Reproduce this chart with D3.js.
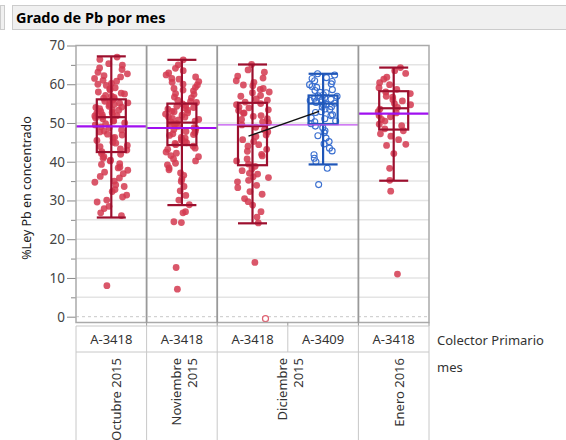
<!DOCTYPE html>
<html>
<head>
<meta charset="utf-8">
<script src="https://cdn.jsdelivr.net/npm/d3@7"></script>
<style>
  body { margin: 0; background: #fff; font-family: "Noto Sans", "Open Sans", sans-serif; }
  svg text { fill: #333; }
</style>
</head>
<body>
<div id="chart"></div>
<script>
// groups (Colector Primario within mes)
const grupos = ["Oct-A-3418", "Nov-A-3418", "Dic-A-3418", "Dic-A-3409", "Ene-A-3418"];
const colectores = ["A-3418", "A-3418", "A-3418", "A-3409", "A-3418"];
const meses = [["Octubre 2015"], ["Noviembre", "2015"], ["Diciembre", "2015"], ["Enero 2016"]];
const mesGrupos = [[0], [1], [2, 3], [4]];

// %Ley Pb values per group
const octubre = [67.0, 66.4, 65.3, 64.9, 64.2, 63.8, 63.1, 62.7, 62.2, 61.9, 61.5, 61.0, 60.8, 60.2, 60.0, 59.7,
  59.1, 58.8, 58.6, 58.0, 57.7, 57.5, 57.1, 56.9, 56.6, 56.4, 56.2,
  55.9, 55.7, 55.6, 55.2, 55.1, 54.8, 54.7, 54.3, 54.1, 54.0, 53.7, 53.4, 53.3, 53.0, 52.8, 52.5, 52.4, 52.1, 51.9, 51.8, 51.6,
  51.3, 51.1, 50.6, 50.5, 50.0, 49.8, 49.5, 49.0, 48.8, 48.2, 47.9, 47.7, 47.1, 46.9, 46.3, 46.1, 45.5, 45.0, 44.8, 44.2, 43.9, 43.3, 43.0, 42.6,
  42.1, 41.9, 41.3, 40.9, 40.4, 40.2, 39.5, 39.3, 38.6, 38.4, 37.8, 37.3, 36.9, 36.2, 35.8, 35.0, 34.7, 34.0, 33.6, 32.8, 32.3, 31.4, 30.9, 30.1, 29.6, 28.5, 27.9, 26.8, 26.1,
  8.0];
const noviembre = [66.3, 65.0, 64.1, 63.5, 62.9, 62.4, 61.9, 61.5, 61.3, 60.7, 60.5, 60.0, 59.8, 59.2, 58.9, 58.5, 58.3, 57.6, 57.4, 56.7, 56.5, 55.9, 55.6, 55.3,
  54.9, 54.5, 54.3, 54.0, 53.8, 53.6, 53.3, 53.0, 52.9, 52.6, 52.3, 52.0, 51.6, 51.5, 51.2, 50.9, 50.8, 50.5, 50.3,
  49.9, 49.6, 49.4, 49.1, 48.8, 48.6, 48.3, 48.0, 47.8, 47.5, 47.2, 47.0, 46.8, 46.3, 46.1, 45.7, 45.5, 45.2, 44.9, 44.7, 44.4,
  44.0, 43.5, 43.2, 42.5, 42.2, 41.6, 41.3, 40.7, 40.2, 39.6, 39.2, 38.4, 37.9, 37.1, 36.5, 35.5, 34.9, 33.6, 32.5, 31.3, 30.1, 28.9,
  27.1, 26.8, 24.5, 24.3, 12.7, 7.1];
const diciembre3418 = [65.1, 63.7, 63.1, 62.1, 61.6, 60.9, 60.5, 59.8, 59.6, 58.9, 58.7, 58.0, 57.8, 57.1, 56.9, 56.2, 55.9, 55.4,
  55.0, 54.7, 54.1, 53.9, 53.4, 53.2, 52.6, 52.5, 51.9, 51.7, 51.1, 50.9, 50.3, 50.1, 49.5,
  48.9, 48.2, 47.7, 46.9, 46.5, 45.7, 45.2, 44.4, 44.0, 43.2, 42.7, 41.9, 41.5, 40.7, 40.2, 39.4,
  38.8, 38.1, 37.7, 37.0, 36.8, 36.1, 35.9, 35.2, 34.8, 33.9, 33.3, 32.3, 31.6, 30.5, 29.7, 28.8, 27.1, 25.7, 24.2,
  14.0];
const diciembre3409 = [62.7, 62.4, 61.7, 61.5, 60.9, 60.7, 60.1, 59.9, 59.4, 59.2, 58.6, 58.4, 57.9, 57.8, 57.3,
  57.0, 56.9, 56.5, 56.4, 56.1, 56.0, 55.8, 55.7, 55.4, 55.3, 55.1,
  54.8, 54.7, 54.2, 54.1, 53.6, 53.5, 52.9, 52.7, 52.1, 51.9, 51.3, 51.1, 50.5, 50.3, 49.8,
  49.2, 48.8, 48.0, 47.5, 46.7, 46.1, 45.2, 44.6, 43.5, 42.8, 41.8, 40.9, 40.0, 38.3,
  34.1];
const enero = [64.3, 63.5, 62.8, 61.8, 61.3, 60.4, 59.9, 59.1, 58.7,
  58.0, 57.6, 56.9, 56.7, 56.0, 55.7, 55.0, 54.7, 54.0,
  53.6, 52.9, 52.6, 51.9, 51.6, 50.9, 50.5, 49.7, 49.3, 48.5,
  48.0, 47.2, 46.6, 45.7, 44.5, 44.2, 42.1, 38.3, 35.2, 32.4, 11.0];
const valores = [octubre, noviembre, diciembre3418, diciembre3409, enero];

// excluded row (open marker)
const excluidoGrupo = [2];
const excluidoValor = [-0.5];

// box plot summaries per group
const bigoteAlto = [67.2, 66.3, 65.1, 62.7, 64.3];
const cuartil3 = [56.1, 55.0, 55.2, 57.1, 58.2];
const mediana = [51.5, 50.1, 49.2, 55.0, 53.8];
const cuartil1 = [42.5, 44.3, 39.1, 49.7, 48.3];
const bigoteBajo = [25.6, 28.8, 24.1, 39.3, 35.1];

// mean per mes (purple) and per colector in Diciembre (black line)
const mediaMes = [49.1, 48.7, 49.5, 52.4];
const mediaDic = [46.6, 53.0];

const yTicks = [0, 10, 20, 30, 40, 50, 60, 70];
const yMinor = [5, 15, 25, 35, 45, 55, 65];

const width = 566, height = 440;
const pLeft = 76, pRight = 429, pTop = 45.5, pBottom = 322.5;

const svg = d3.select("#chart").append("svg")
  .attr("width", width).attr("height", height);

// title bar
svg.append("rect").attr("x", 0.5).attr("y", 5.5).attr("width", 4).attr("height", 24)
  .attr("fill", "#f0f0f0").attr("stroke", "#cccccc");
svg.append("rect").attr("x", 12.5).attr("y", 5.5).attr("width", 560).attr("height", 24)
  .attr("fill", "#f0f0f0").attr("stroke", "#cccccc");
svg.append("text").attr("x", 16).attr("y", 23)
  .style("font-size", "14.5px").style("font-weight", "bold").style("fill", "#000")
  .text("Grado de Pb por mes");

const y = d3.scaleLinear().domain([-1.5, 70]).range([pBottom, pTop]);
const x = d3.scaleBand().domain(grupos).range([pLeft, pRight]);
const bw = x.bandwidth();
const cx = i => x(grupos[i]) + bw / 2;

// gridlines
svg.append("g").selectAll("line")
  .data(yTicks.concat(yMinor).filter(d => d > 0 && d < 70))
  .join("line")
  .attr("x1", pLeft).attr("x2", pRight)
  .attr("y1", d => y(d)).attr("y2", d => y(d))
  .attr("stroke", "#e4e4e4").attr("stroke-width", 1.5);
svg.append("line")
  .attr("x1", pLeft).attr("x2", pRight).attr("y1", y(0)).attr("y2", y(0))
  .attr("stroke", "#c8c8c8").attr("stroke-dasharray", "3,3");

// y axis
const yAxis = svg.append("g").attr("transform", `translate(${pLeft},0)`)
  .call(d3.axisLeft(y).tickValues(yTicks).tickSize(9).tickPadding(2));
yAxis.select(".domain").remove();
yAxis.selectAll("line").attr("stroke", "#888");
yAxis.selectAll("text").style("font-size", "13.5px").style("fill", "#444")
  .style("font-family", "Noto Sans, sans-serif");
const yMinorAxis = svg.append("g").attr("transform", `translate(${pLeft},0)`)
  .call(d3.axisLeft(y).tickValues(yMinor).tickSize(5).tickFormat(""));
yMinorAxis.select(".domain").remove();
yMinorAxis.selectAll("line").attr("stroke", "#888");

svg.append("text")
  .attr("transform", `translate(31,${(pTop + pBottom) / 2 + 4}) rotate(-90)`)
  .attr("text-anchor", "middle")
  .style("font-size", "12.5px").style("fill", "#222")
  .text("%Ley Pb en concentrado");

// jittered points (deterministic spread, wider where points are dense)
const spread = (g, i) => {
  const s = Math.sin((i + 1) * 78.233 + (g + 1) * 12.9898) * 43758.5453;
  return s - Math.floor(s);
};
const offsets = [];
valores.forEach((vals, g) => {
  vals.forEach((v, i) => {
    const n = vals.filter(w => Math.abs(w - v) < 2.5).length;
    const wmax = g === 3 ? 14 : 17;
    const w = wmax * Math.min(1, Math.sqrt(n / 8));
    offsets.push({ g, v, dx: (spread(g, i) - 0.5) * 2 * w });
  });
});

svg.append("g").selectAll("circle")
  .data(offsets.filter(d => d.g !== 3))
  .join("circle")
  .attr("cx", d => cx(d.g) + d.dx)
  .attr("cy", d => y(d.v))
  .attr("r", 3.4)
  .attr("fill", "#d43a50").attr("fill-opacity", 0.85);

svg.append("g").selectAll("circle")
  .data(offsets.filter(d => d.g === 3))
  .join("circle")
  .attr("cx", d => cx(d.g) + d.dx)
  .attr("cy", d => y(d.v))
  .attr("r", 3)
  .attr("fill", "none").attr("stroke", "#3a6fd0").attr("stroke-width", 1.1);

svg.append("g").selectAll("circle")
  .data(excluidoValor)
  .join("circle")
  .attr("cx", (d, i) => cx(excluidoGrupo[i]) + 13)
  .attr("cy", d => y(d))
  .attr("r", 3)
  .attr("fill", "#fff").attr("stroke", "#e06070").attr("stroke-width", 1.2);

// boxes
const boxW = 29;
grupos.forEach((g, i) => {
  const col = i === 3 ? "#1f56b8" : "#9c0f2e";
  const c = cx(i);
  const bx = svg.append("g").attr("stroke", col).attr("stroke-width", 2.2).attr("fill", "none");
  bx.append("line").attr("x1", c).attr("x2", c).attr("y1", y(bigoteAlto[i])).attr("y2", y(bigoteBajo[i]));
  bx.append("line").attr("x1", c - boxW / 2).attr("x2", c + boxW / 2).attr("y1", y(bigoteAlto[i])).attr("y2", y(bigoteAlto[i]));
  bx.append("line").attr("x1", c - boxW / 2).attr("x2", c + boxW / 2).attr("y1", y(bigoteBajo[i])).attr("y2", y(bigoteBajo[i]));
  bx.append("rect").attr("x", c - boxW / 2).attr("width", boxW)
    .attr("y", y(cuartil3[i])).attr("height", y(cuartil1[i]) - y(cuartil3[i]));
  bx.append("line").attr("x1", c - boxW / 2).attr("x2", c + boxW / 2).attr("y1", y(mediana[i])).attr("y2", y(mediana[i]));
});

// purple mean lines per mes
mesGrupos.forEach((gs, m) => {
  const x0 = x(grupos[gs[0]]), x1 = x(grupos[gs[gs.length - 1]]) + bw;
  svg.append("line")
    .attr("x1", x0).attr("x2", x1)
    .attr("y1", y(mediaMes[m])).attr("y2", y(mediaMes[m]))
    .attr("stroke", m === 2 ? "#c050f0" : "#a010f0")
    .attr("stroke-width", m === 2 ? 1.2 : 2.2);
});

// black line joining colector means in Diciembre
svg.append("path")
  .datum(mediaDic)
  .attr("d", d3.line().x((d, i) => cx(2 + i) - 4).y(d => y(d)))
  .attr("stroke", "#111").attr("stroke-width", 1.5).attr("fill", "none");

// frame and mes separators
svg.append("rect").attr("x", pLeft).attr("y", pTop).attr("width", pRight - pLeft).attr("height", pBottom - pTop)
  .attr("fill", "none").attr("stroke", "#aaaaaa").attr("stroke-width", 1.5);
mesGrupos.slice(1).forEach(gs => {
  const xs = x(grupos[gs[0]]);
  svg.append("line").attr("x1", xs).attr("x2", xs).attr("y1", pTop).attr("y2", pBottom)
    .attr("stroke", "#999").attr("stroke-width", 1.8);
});

// bottom label tables
const row1 = 326, row2 = 352;
x.domain().forEach((g, i) => {
  const xs = x(g) + bw;
  svg.append("line").attr("x1", xs).attr("x2", xs).attr("y1", pBottom).attr("y2", row1)
    .attr("stroke", "#999");
});
svg.append("line").attr("x1", pLeft).attr("x2", pRight).attr("y1", row1).attr("y2", row1).attr("stroke", "#c8c8c8");
svg.append("line").attr("x1", pLeft).attr("x2", pRight).attr("y1", row2).attr("y2", row2).attr("stroke", "#c8c8c8");
[pLeft].concat(grupos.map(g => x(g) + bw)).forEach(xs => {
  svg.append("line").attr("x1", xs).attr("x2", xs).attr("y1", row1).attr("y2", row2).attr("stroke", "#c8c8c8");
});
[pLeft].concat(mesGrupos.map(gs => x(grupos[gs[gs.length - 1]]) + bw)).forEach(xs => {
  svg.append("line").attr("x1", xs).attr("x2", xs).attr("y1", row2).attr("y2", height).attr("stroke", "#c8c8c8");
});

svg.append("g").selectAll("text")
  .data(colectores)
  .join("text")
  .attr("x", (d, i) => cx(i))
  .attr("y", 344)
  .attr("text-anchor", "middle")
  .style("font-size", "13px")
  .text(d => d);

meses.forEach((lines, m) => {
  const gs = mesGrupos[m];
  const mc = (x(grupos[gs[0]]) + x(grupos[gs[gs.length - 1]]) + bw) / 2;
  lines.forEach((t, k) => {
    const bx = lines.length === 1 ? mc + 10 : mc - 1 + k * 16;
    svg.append("text")
      .attr("transform", `translate(${bx},358) rotate(-90)`)
      .attr("text-anchor", "end")
      .style("font-size", "13px")
      .text(t);
  });
});

svg.append("text").attr("x", 437).attr("y", 345).style("font-size", "13px").text("Colector  Primario");
svg.append("text").attr("x", 437).attr("y", 372).style("font-size", "13px").text("mes");
</script>
</body>
</html>
